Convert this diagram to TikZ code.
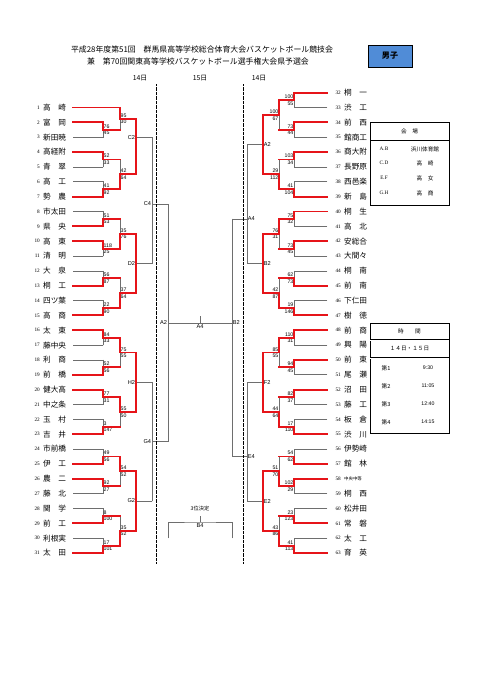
\documentclass[tikz,border=0pt]{standalone}
\usepackage{fontspec}
\setmainfont{Liberation Serif}
\setsansfont{Liberation Sans}
\newfontfamily\jp{Noto Sans CJK JP}
\pgfdeclarelayer{lose}
\pgfdeclarelayer{win}
\pgfsetlayers{lose,main,win}
\definecolor{winred}{RGB}{230,20,25}
\definecolor{losegray}{RGB}{110,110,110}
\definecolor{boysblue}{RGB}{80,140,215}
\tikzset{
  lose/.style={draw=losegray,line width=0.8pt,line cap=rect},
  win/.style={draw=winred,line width=2.3pt,line cap=rect},
  team/.style={font=\jp\fontsize{9.5}{10}\selectfont,inner sep=0pt},
  seed/.style={font=\fontsize{6.5}{7}\selectfont,inner sep=0pt},
  score/.style={font=\sffamily\fontsize{6.5}{7}\selectfont,inner sep=0.6pt},
  game/.style={font=\sffamily\fontsize{7}{7}\selectfont,inner sep=1pt},
  day/.style={font=\jp\fontsize{8.5}{9}\selectfont},
  info/.style={font=\jp\fontsize{7}{8}\selectfont},
  dots/.style={dash pattern=on 0.8pt off 0.8pt,line width=0.9pt},
}

\begin{document}
\begin{tikzpicture}[x=0.4368mm,y=-0.4368mm]
\useasboundingbox (0,0) rectangle (481,680);

% header
\node[font=\jp\fontsize{9.8}{10}\selectfont] (title1) at (202,50) {平成28年度第51回　群馬県高等学校総合体育大会バスケットボール競技会};
\node[font=\jp\fontsize{9.8}{10}\selectfont] (title2) at (198,61) {兼　第70回関東高等学校バスケットボール選手権大会県予選会};
\node[draw,line width=0.9pt,fill=boysblue,minimum width=19.2mm,minimum height=9.6mm,font=\jp\bfseries\fontsize{10}{10}\selectfont] (boys) at (390,56) {男子};
\node[day] (dayL) at (140,78) {14日};
\node[day] (dayC) at (200,78) {15日};
\node[day] (dayR) at (259,78) {14日};
\draw[dots] (156.5,84) -- (156.5,564);
\draw[dots] (243.5,84) -- (243.5,564);

% bracket, one row per team
\begin{scope}[yshift=-40.47mm,y=-6.4865mm]
  % left teams
  \foreach \num/\nm/\fx/\tc in {1/高　崎/120/win, 2/富　岡/103/win, 3/新田暁/103/lose, 4/高経附/103/win,
      5/青　翠/103/lose, 6/高　工/103/lose, 7/勢　農/103/win, 8/市太田/103/lose, 9/県　央/103/win,
      10/高　東/103/win, 11/清　明/103/lose, 12/大　泉/103/lose, 13/桐　工/103/win, 14/四ツ葉/103/lose,
      15/高　商/103/win, 16/太　東/103/win, 17/藤中央/103/lose, 18/利　商/103/lose, 19/前　橋/103/win,
      20/健大高/103/win, 21/中之条/103/lose, 22/玉　村/103/lose, 23/吉　井/103/win, 24/市前橋/103/lose,
      25/伊　工/103/win, 26/農　二/103/win, 27/藤　北/103/lose, 28/関　学/103/lose, 29/前　工/103/win,
      30/利根実/103/lose, 31/太　田/103/win}{
    \node[seed,anchor=east] (s\num) at (40,\num) {\num};
    \node[team,anchor=west] (t\num) at (43,\num) {\nm};
    \begin{pgfonlayer}{\tc}\draw[\tc] (73,\num) -- (\fx,\num);\end{pgfonlayer}
  }
  % right teams
  \foreach \num/\nm/\tc in {32/桐　一/win, 33/渋　工/lose, 34/前　西/win, 35/館商工/lose, 36/商大附/win,
      37/長野原/lose, 38/西邑楽/lose, 39/新　島/win, 40/桐　生/win, 41/高　北/lose, 42/安総合/win,
      43/大間々/lose, 44/桐　南/lose, 45/前　南/win, 46/下仁田/lose, 47/樹　徳/win, 48/前　商/win,
      49/興　陽/lose, 50/前　東/win, 51/尾　瀬/lose, 52/沼　田/win, 53/藤　工/lose, 54/板　倉/lose,
      55/渋　川/win, 56/伊勢崎/lose, 57/館　林/win, 58/{\fontsize{5.5}{6}\selectfont 中央中等}/win,
      59/桐　西/lose, 60/松井田/lose, 61/常　磐/win, 62/太　工/lose, 63/育　英/win}{
    \pgfmathtruncatemacro\row{\num-32}
    \node[seed,anchor=east] (s\num) at (341,\row) {\num};
    \node[team,anchor=west] (t\num) at (344,\row) {\nm};
    \begin{pgfonlayer}{\tc}\draw[\tc] (327,\row) -- (294,\row);\end{pgfonlayer}
  }

  % played games, left half
  \foreach \gx/\up/\lo/\nx/\us/\ls/\cu/\cl in {103/2/3/120/76/45/win/lose, 103/4/5/120/52/33/win/lose,
      103/6/7/120/41/92/lose/win, 120/1/2.5/136/95/30/win/lose, 120/4.5/6.5/136/42/64/lose/win,
      103/8/9/120/51/53/lose/win, 103/10/11/120/118/25/win/lose, 103/12/13/120/56/87/lose/win,
      103/14/15/120/22/90/lose/win, 120/8.5/10.5/136/35/76/lose/win, 120/12.5/14.5/136/37/64/lose/win,
      103/16/17/120/84/33/win/lose, 103/18/19/120/52/56/lose/win, 103/20/21/120/77/31/win/lose,
      103/22/23/120/3/147/lose/win, 120/16.5/18.5/136/75/55/win/lose, 120/20.5/22.5/136/55/50/win/lose,
      103/24/25/120/49/56/lose/win, 103/26/27/120/92/27/win/lose, 103/28/29/120/8/100/lose/win,
      103/30/31/120/17/101/lose/win, 120/24.5/26.5/136/54/52/win/lose, 120/28.5/30.5/136/35/52/lose/win}{
    \pgfmathsetmacro\gm{(\up+\lo)/2}
    \begin{pgfonlayer}{\cu}\draw[\cu] (\gx,\up) -- (\gx,\gm);\end{pgfonlayer}
    \begin{pgfonlayer}{\cl}\draw[\cl] (\gx,\lo) -- (\gx,\gm);\end{pgfonlayer}
    \begin{pgfonlayer}{win}\draw[win] (\gx,\gm) -- (\nx,\gm);\end{pgfonlayer}
    \node[score,anchor=south west,yshift=1pt] at (\gx,\gm) {\us};
    \node[score,anchor=north west,yshift=-1pt] at (\gx,\gm) {\ls};
  }
  % played games, right half
  \foreach \gx/\up/\lo/\nx/\us/\ls/\cu/\cl in {294/0/1/279/100/55/win/lose, 294/2/3/279/73/44/win/lose,
      294/4/5/279/103/34/win/lose, 294/6/7/279/41/104/lose/win, 279/0.5/2.5/263/100/67/win/lose,
      279/4.5/6.5/263/29/112/lose/win, 294/8/9/279/75/32/win/lose, 294/10/11/279/73/45/win/lose,
      294/12/13/279/62/73/lose/win, 294/14/15/279/19/146/lose/win, 279/8.5/10.5/263/76/31/win/lose,
      279/12.5/14.5/263/42/87/lose/win, 294/16/17/279/110/31/win/lose, 294/18/19/279/94/45/win/lose,
      294/20/21/279/82/37/win/lose, 294/22/23/279/17/110/lose/win, 279/16.5/18.5/263/85/55/win/lose,
      279/20.5/22.5/263/44/64/lose/win, 294/24/25/279/54/62/lose/win, 294/26/27/279/102/29/win/lose,
      294/28/29/279/23/123/lose/win, 294/30/31/279/41/113/lose/win, 279/24.5/26.5/263/51/70/lose/win,
      279/28.5/30.5/263/43/86/lose/win}{
    \pgfmathsetmacro\gm{(\up+\lo)/2}
    \begin{pgfonlayer}{\cu}\draw[\cu] (\gx,\up) -- (\gx,\gm);\end{pgfonlayer}
    \begin{pgfonlayer}{\cl}\draw[\cl] (\gx,\lo) -- (\gx,\gm);\end{pgfonlayer}
    \begin{pgfonlayer}{win}\draw[win] (\gx,\gm) -- (\nx,\gm);\end{pgfonlayer}
    \node[score,anchor=south east,yshift=1pt] at (\gx,\gm) {\us};
    \node[score,anchor=north east,yshift=-1pt] at (\gx,\gm) {\ls};
  }

  % games still to play
  \foreach \gx/\up/\lo/\gm/\nx/\g/\vc/\side in {136/1.75/5.5/3/152/C2/win/east, 136/9.5/13.5/11.5/152/D2/win/east,
      136/17.5/21.5/19.5/152/H2/win/east, 136/25.5/29.5/27.5/152/G2/win/east,
      152/3/11.5/7.5/168/C4/lose/east, 152/19.5/27.5/23.5/168/G4/lose/east, 168/7.5/23.5/15.5/168/A2/lose/east,
      263/1.5/5.5/3.5/247/A2/win/west, 263/9.5/13.5/11.5/247/B2/win/west,
      263/17.5/21.5/19.5/247/F2/win/west, 263/25.5/29.5/27.5/247/E2/win/west,
      247/3.5/11.5/8.5/232/A4/lose/west, 247/19.5/27.5/24.5/232/E4/lose/west, 232/8.5/24.5/15.5/232/B2/lose/west}{
    \begin{pgfonlayer}{\vc}\draw[\vc] (\gx,\up) -- (\gx,\lo);\end{pgfonlayer}
    \begin{pgfonlayer}{lose}\draw[lose] (\gx,\gm) -- (\nx,\gm);\end{pgfonlayer}
    \node[game,anchor=\side] (g\g\gx) at (\gx,\gm) {\g};
  }
  % final
  \coordinate (semiL) at (168,15.5);
  \coordinate (semiR) at (232,15.5);
  \draw[lose] (semiL) -- (semiR);
  \draw[lose] (200,15.5) -- ++(0,-0.45);
  \node[game,anchor=north] (final) at (200,15.55) {A4};
\end{scope}

% third place game
\node[font=\jp\fontsize{6.5}{7}\selectfont] (third) at (200,509) {3位決定};
\coordinate (thirdL) at (168,538);
\coordinate (thirdR) at (232,538);
\draw[lose] (thirdL) |- (200,522) -| (thirdR);
\draw[lose] (200,522) -- (200,516);
\node[game,anchor=north] (thirdgame) at (200,522.5) {B4};

% courts
\draw[line width=1.2pt] (370,122) rectangle (449,205);
\draw[line width=0.6pt] (370,140) -- (449,140);
\node[info] (court) at (409.5,131) {会　場};
\foreach \k/\v/\yy in {A.B/浜川体育館/149, C.D/高　崎/163, E.F/高　女/178, G.H/高　商/193}{
  \node[info,font=\fontsize{6.5}{7}\selectfont] (k\yy) at (384,\yy) {\k};
  \node[info] (v\yy) at (425,\yy) {\v};
}

% times
\draw[line width=1.2pt] (370,323) rectangle (449,433);
\draw[double,line width=0.4pt] (370,340) -- (449,340);
\draw[double,line width=0.4pt] (370,358) -- (449,358);
\node[info] (time) at (409.5,331) {時　　間};
\node[info] (days) at (409.5,349) {１４日・１５日};
\foreach \k/\v/\yy in {第1/9:30/368, 第2/11:05/386, 第3/12:40/404, 第4/14:15/422}{
  \node[info] (k\yy) at (386,\yy) {\k};
  \node[info,font=\sffamily\fontsize{6.5}{7}\selectfont] (v\yy) at (428,\yy) {\v};
}
\end{tikzpicture}
\end{document}
